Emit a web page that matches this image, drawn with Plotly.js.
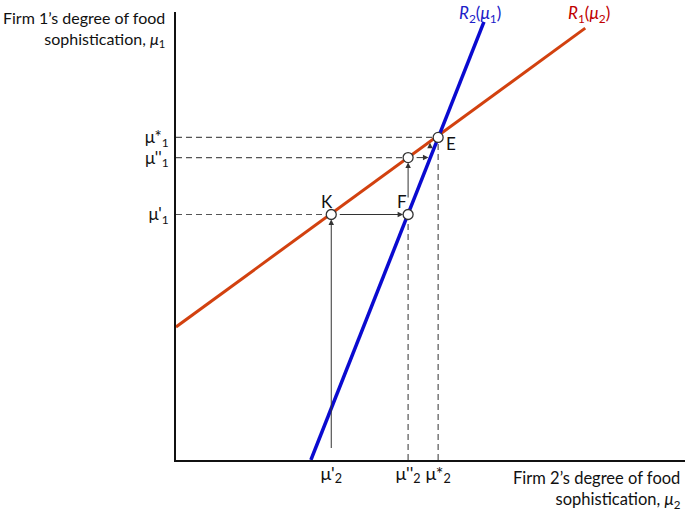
<!DOCTYPE html>
<html>
<head>
<meta charset="utf-8">
<script src="https://cdn.plot.ly/plotly-3.0.1.min.js"></script>
<style>
  html, body { margin: 0; padding: 0; background: white; }
  #chart { width: 685px; height: 511px; }
</style>
</head>
<body>
<div id="chart"></div>
<script>
// Reaction functions (end points)
var r1Mu2 = [0, 80.4];
var r1Mu1 = [29.7, 96.4];
var r2Mu2 = [26.5, 60.5];
var r2Mu1 = [0, 97.8];

// Points on the adjustment path: K, F, G (unnamed), E
var pointNames = ['K', 'F', '', 'E'];
var pointMu2 = [30.5, 45.6, 45.6, 51.5];
var pointMu1 = [54.8, 54.8, 67.5, 72.0];

// Tick labels
var yTickText = ["μ'<sub>1</sub>", "μ''<sub>1</sub>", "μ*<sub>1</sub>"];
var xTickText = ["μ'<sub>2</sub>", "μ''<sub>2</sub>", "μ*<sub>2</sub>"];

// Arrows of the adjustment path (from -> to)
var arrowFromMu2 = [30.5, 30.5, 45.6, 45.6, 49.9];
var arrowFromMu1 = [0, 54.8, 54.8, 67.5, 67.5];
var arrowToMu2 = [30.5, 45.6, 45.6, 49.6, 49.9];
var arrowToMu1 = [54.8, 54.8, 67.5, 67.5, 70.8];

var FONT = 'Lato, "Open Sans", sans-serif';
var K = 0, F = 1, G = 2, E = 3;

var dashStyle = {color: '#555', width: 1.2, dash: '6px,4px'};

var traces = [];

// dashed guides to the axes
[K, G, E].forEach(function(i) {
  traces.push({
    x: [0, pointMu2[i]], y: [pointMu1[i], pointMu1[i]],
    mode: 'lines', line: dashStyle, hoverinfo: 'skip'
  });
});
[F, E].forEach(function(i) {
  traces.push({
    x: [pointMu2[i], pointMu2[i]], y: [0, pointMu1[i]],
    mode: 'lines', line: dashStyle, hoverinfo: 'skip'
  });
});

traces.push({
  x: r1Mu2, y: r1Mu1, mode: 'lines', name: 'R1',
  line: {color: '#d2410f', width: 3}
});
traces.push({
  x: r2Mu2, y: r2Mu1, mode: 'lines', name: 'R2',
  line: {color: '#0a0ad0', width: 3.5}
});
traces.push({
  x: pointMu2, y: pointMu1, mode: 'markers',
  marker: {size: 10, color: 'white', line: {color: '#333', width: 1.3}}
});

var annotations = [];

for (var i = 0; i < arrowFromMu2.length; i++) {
  annotations.push({
    x: arrowToMu2[i], y: arrowToMu1[i],
    ax: arrowFromMu2[i], ay: arrowFromMu1[i],
    xref: 'x', yref: 'y', axref: 'x', ayref: 'y',
    text: ' ', showarrow: true,
    arrowhead: 2, arrowsize: 1.1, arrowwidth: 1, arrowcolor: '#333',
    standoff: (i === 3 || i === 4) ? 0 : 5,
    startstandoff: (i === 0 || i === 4) ? 0 : 5
  });
}

// point labels
var labelShiftX = [-4, -6, 0, 13];
var labelShiftY = [13, 13, 0, -6];
pointNames.forEach(function(name, i) {
  if (!name) return;
  annotations.push({
    x: pointMu2[i], y: pointMu1[i], xref: 'x', yref: 'y',
    text: name, showarrow: false,
    xshift: labelShiftX[i], yshift: labelShiftY[i],
    font: {family: FONT, size: 17, color: '#111'}
  });
});

// curve labels
annotations.push({
  x: 59.7, y: 1, xref: 'x', yref: 'paper', yanchor: 'top', yshift: 12,
  text: '<i>R</i><sub>2</sub>(<i>μ</i><sub>1</sub>)', showarrow: false,
  font: {family: FONT, size: 17, color: '#2020c8'}
});
annotations.push({
  x: 81.1, y: 1, xref: 'x', yref: 'paper', yanchor: 'top', yshift: 12,
  text: '<i>R</i><sub>1</sub>(<i>μ</i><sub>2</sub>)', showarrow: false,
  font: {family: FONT, size: 17, color: '#c00000'}
});

// axis titles
annotations.push({
  x: 0, y: 1, xref: 'paper', yref: 'paper', xanchor: 'right', yanchor: 'top',
  xshift: -9, yshift: 6, align: 'right',
  text: 'Firm 1’s degree of food<br>sophistication, <i>μ</i><sub>1</sub>',
  showarrow: false, font: {family: FONT, size: 16, color: '#111'}
});
annotations.push({
  x: 1, y: 0, xref: 'paper', yref: 'paper', xanchor: 'right', yanchor: 'top',
  xshift: -2, yshift: -6, align: 'right',
  text: 'Firm 2’s degree of food<br>sophistication, <i>μ</i><sub>2</sub>',
  showarrow: false, font: {family: FONT, size: 16.5, color: '#111'}
});

var layout = {
  width: 685, height: 511,
  margin: {l: 176, r: 0, t: 12, b: 51},
  paper_bgcolor: 'white', plot_bgcolor: 'white',
  showlegend: false,
  font: {family: FONT, size: 17, color: '#111'},
  xaxis: {
    range: [0, 100], showgrid: false, zeroline: false,
    showline: true, linecolor: '#111', linewidth: 2,
    tickvals: [pointMu2[K], pointMu2[F], pointMu2[E]],
    ticktext: xTickText, ticks: '', ticklabelstandoff: -4,
    tickfont: {family: FONT, size: 18, color: '#111'}
  },
  yaxis: {
    range: [0, 100], showgrid: false, zeroline: false,
    showline: true, linecolor: '#111', linewidth: 2,
    tickvals: [pointMu1[K], pointMu1[G], pointMu1[E]],
    ticktext: yTickText, ticks: '', ticklabelstandoff: 2,
    tickfont: {family: FONT, size: 17, color: '#111'}
  },
  annotations: annotations
};

Plotly.newPlot('chart', traces, layout, {displayModeBar: false, staticPlot: true});
</script>
</body>
</html>
